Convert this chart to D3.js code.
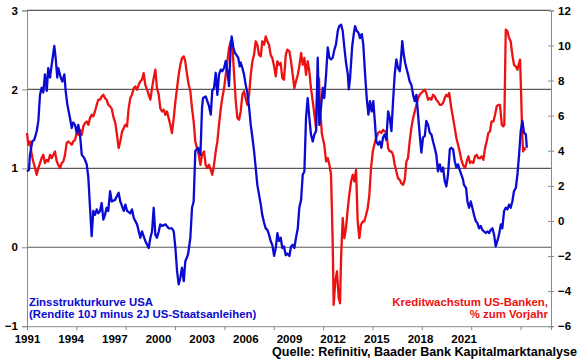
<!DOCTYPE html>
<html>
<head>
<meta charset="utf-8">
<script src="https://cdn.jsdelivr.net/npm/d3@7"></script>
<style>
  html, body { margin: 0; padding: 0; background: #fff; }
  svg { display: block; }
  text { font-family: "Liberation Sans", Arial, sans-serif; font-weight: bold; }
</style>
</head>
<body>
<script>
// ---- DATA ----
const yearTicks = [1991, 1994, 1997, 2000, 2003, 2006, 2009, 2012, 2015, 2018, 2021];
const leftTicks = [-1, 0, 1, 2, 3];
const rightTicks = [-6, -4, -2, 0, 2, 4, 6, 8, 10, 12];

// Zinsstrukturkurve USA (10J minus 2J), left axis
const spreadDates = [
1991.00,1991.12,1991.18,1991.32,1991.44,1991.59,1991.69,1991.79,1991.89,1991.99,
1992.09,1992.20,1992.29,1992.40,1992.50,1992.56,1992.66,1992.74,1992.84,1992.90,
1993.05,1993.15,1993.27,1993.35,1993.45,1993.61,1993.72,1993.81,1993.92,1994.02,
1994.12,1994.22,1994.33,1994.48,1994.63,1994.73,1994.83,1994.93,1995.03,1995.13,
1995.24,1995.33,1995.44,1995.54,1995.64,1995.74,1995.84,1995.94,1996.05,1996.15,
1996.35,1996.57,1996.67,1996.88,1996.98,1997.08,1997.28,1997.38,1997.49,1997.69,
1997.89,1997.99,1998.19,1998.40,1998.50,1998.60,1998.70,1998.80,1998.90,1999.01,
1999.10,1999.21,1999.41,1999.61,1999.81,1999.92,2000.02,2000.12,2000.22,2000.32,
2000.42,2000.53,2000.62,2000.79,2000.93,2001.03,2001.13,2001.23,2001.40,2001.54,
2001.64,2001.70,2001.86,2001.96,2002.06,2002.17,2002.26,2002.37,2002.47,2002.57,
2002.67,2002.78,2002.87,2002.98,2003.08,2003.18,2003.28,2003.38,2003.44,2003.54,
2003.64,2003.72,2003.84,2003.93,2003.99,2004.09,2004.19,2004.29,2004.39,2004.50,
2004.60,2004.70,2004.80,2004.90,2005.00,2005.10,2005.21,2005.30,2005.41,2005.51,
2005.61,2005.71,2005.81,2005.91,2006.02,2006.12,2006.22,2006.32,2006.42,2006.52,
2006.62,2006.73,2006.82,2006.95,2007.05,2007.15,2007.25,2007.35,2007.46,2007.55,
2007.66,2007.76,2007.86,2007.96,2008.06,2008.16,2008.26,2008.37,2008.47,2008.57,
2008.67,2008.77,2008.87,2008.98,2009.07,2009.18,2009.28,2009.38,2009.48,2009.58,
2009.68,2009.78,2009.89,2009.98,2010.09,2010.19,2010.29,2010.39,2010.50,2010.56,
2010.64,2010.76,2010.86,2010.94,2011.04,2011.14,2011.24,2011.35,2011.44,2011.55,
2011.65,2011.75,2011.85,2011.95,2012.05,2012.14,2012.23,2012.34,2012.44,2012.54,
2012.64,2012.74,2012.84,2012.95,2013.05,2013.15,2013.25,2013.35,2013.45,2013.55,
2013.66,2013.75,2013.81,2013.90,2013.98,2014.06,2014.16,2014.26,2014.36,2014.47,
2014.57,2014.67,2014.77,2014.87,2014.97,2015.07,2015.18,2015.27,2015.38,2015.48,
2015.58,2015.68,2015.78,2015.88,2015.98,2016.09,2016.19,2016.29,2016.39,2016.49,
2016.59,2016.70,2016.79,2016.90,2017.00,2017.10,2017.20,2017.30,2017.40,2017.50,
2017.56,2017.69,2017.77,2017.87,2017.97,2018.07,2018.17,2018.28,2018.37,2018.48,
2018.58,2018.68,2018.78,2018.88,2018.98,2019.09,2019.19,2019.29,2019.39,2019.49,
2019.59,2019.69,2019.80,2019.89,2020.00,2020.10,2020.20,2020.30,2020.40,2020.50,
2020.60,2020.71,2020.81,2020.91,2021.01,2021.11,2021.21,2021.32,2021.38
];
const spreadValues = [
0.96,0.98,1.17,1.34,1.36,1.47,1.60,1.93,2.02,1.96,
2.19,1.98,2.27,2.15,2.31,2.40,2.55,2.40,2.15,2.27,
2.15,2.10,2.19,1.98,1.81,1.64,1.51,1.58,1.55,1.45,
1.55,1.43,1.17,1.13,1.05,0.88,0.50,0.14,0.46,0.41,
0.48,0.43,0.46,0.56,0.35,0.41,0.50,0.46,0.71,0.58,
0.60,0.69,0.58,0.46,0.54,0.46,0.43,0.48,0.37,0.29,
0.12,0.20,0.08,-0.01,0.12,0.20,0.50,0.16,0.12,0.20,
0.29,0.27,0.29,0.24,0.24,0.20,-0.01,-0.30,-0.47,-0.39,
-0.26,-0.43,-0.18,-0.09,0.12,0.50,0.58,1.22,1.26,1.17,
1.77,1.89,1.91,1.85,1.79,1.68,1.98,2.02,2.21,1.93,
2.19,2.25,2.23,2.27,2.36,2.23,2.04,2.53,2.67,2.53,
2.46,2.44,2.40,2.29,2.34,2.27,2.19,2.06,1.96,1.77,
1.55,1.39,1.22,1.01,0.79,0.67,0.54,0.41,0.31,0.24,
0.22,0.16,0.08,0.03,-0.11,-0.01,0.18,0.08,0.12,-0.01,
0.01,-0.10,-0.08,-0.11,0.01,0.03,-0.01,0.12,0.24,0.50,
0.60,0.92,0.96,1.64,1.89,1.64,1.43,1.34,1.43,1.47,
2.40,1.55,1.77,2.02,1.89,2.19,2.53,2.40,2.38,2.40,
2.50,2.57,2.74,2.80,2.82,2.74,2.53,2.34,2.19,2.00,
2.15,2.53,2.70,2.80,2.74,2.72,2.65,2.70,2.57,2.19,
1.89,1.68,1.85,1.72,1.85,1.60,1.34,1.30,1.34,1.26,
1.39,1.43,1.36,1.72,1.64,1.47,1.85,2.19,2.38,2.27,
2.23,2.44,2.61,2.44,2.34,2.27,2.19,2.10,2.06,1.93,
1.85,1.93,1.68,1.43,1.20,1.39,1.41,1.60,1.55,1.45,
1.43,1.34,1.26,1.17,0.96,1.05,0.96,1.01,0.84,0.77,
0.92,1.24,1.26,1.24,1.09,1.01,1.05,0.98,0.92,0.86,
0.79,0.75,0.58,0.50,0.58,0.50,0.41,0.33,0.31,0.24,
0.27,0.22,0.20,0.18,0.20,0.18,0.22,0.24,0.16,0.01,
0.08,0.16,0.29,0.24,0.46,0.50,0.48,0.54,0.50,0.58,
0.71,0.75,0.92,1.17,1.47,1.60,1.45,1.43,1.26
];

// Kreditwachstum US-Banken, % zum Vorjahr, right axis
const creditDates = [
1991.00,1991.08,1991.18,1991.29,1991.38,1991.49,1991.59,1991.69,1991.79,1991.89,
1991.99,1992.09,1992.20,1992.29,1992.40,1992.50,1992.60,1992.70,1992.81,1992.90,
1993.01,1993.11,1993.21,1993.31,1993.41,1993.51,1993.61,1993.72,1993.81,1993.92,
1994.02,1994.12,1994.22,1994.33,1994.42,1994.53,1994.63,1994.73,1994.83,1994.93,
1995.03,1995.13,1995.24,1995.33,1995.44,1995.54,1995.64,1995.74,1995.84,1995.94,
1996.05,1996.15,1996.27,1996.37,1996.47,1996.57,1996.67,1996.78,1996.88,1996.98,
1997.08,1997.18,1997.28,1997.38,1997.49,1997.58,1997.69,1997.79,1997.89,1997.99,
1998.09,1998.19,1998.30,1998.40,1998.50,1998.60,1998.70,1998.80,1998.90,1999.01,
1999.10,1999.21,1999.31,1999.41,1999.51,1999.61,1999.71,1999.81,1999.92,2000.02,
2000.12,2000.22,2000.32,2000.42,2000.53,2000.62,2000.73,2000.83,2000.93,2001.03,
2001.13,2001.23,2001.33,2001.44,2001.54,2001.64,2001.76,2001.86,2001.96,2002.06,
2002.17,2002.26,2002.37,2002.47,2002.57,2002.67,2002.78,2002.87,2002.98,2003.08,
2003.18,2003.28,2003.38,2003.48,2003.59,2003.69,2003.79,2003.89,2003.99,2004.09,
2004.19,2004.29,2004.39,2004.50,2004.60,2004.70,2004.80,2004.90,2005.00,2005.10,
2005.21,2005.30,2005.41,2005.51,2005.61,2005.71,2005.81,2005.91,2006.02,2006.12,
2006.22,2006.32,2006.42,2006.52,2006.62,2006.73,2006.82,2006.95,2007.05,2007.15,
2007.25,2007.35,2007.46,2007.55,2007.66,2007.76,2007.86,2007.96,2008.06,2008.16,
2008.26,2008.37,2008.47,2008.57,2008.67,2008.75,2008.81,2008.92,2008.98,2009.07,
2009.18,2009.28,2009.38,2009.48,2009.58,2009.64,2009.74,2009.84,2009.95,2010.03,
2010.09,2010.19,2010.29,2010.39,2010.50,2010.59,2010.70,2010.80,2010.90,2011.00,
2011.10,2011.20,2011.30,2011.41,2011.50,2011.61,2011.71,2011.81,2011.91,2012.02,
2012.11,2012.22,2012.34,2012.44,2012.54,2012.64,2012.74,2012.84,2012.95,2013.05,
2013.15,2013.25,2013.35,2013.45,2013.55,2013.66,2013.75,2013.86,2013.96,2014.06,
2014.16,2014.26,2014.36,2014.47,2014.57,2014.67,2014.77,2014.87,2014.97,2015.07,
2015.18,2015.27,2015.38,2015.48,2015.58,2015.68,2015.78,2015.88,2015.98,2016.09,
2016.19,2016.29,2016.39,2016.49,2016.59,2016.66,2016.79,2016.90,2017.00,2017.10,
2017.20,2017.30,2017.41,2017.52,2017.63,2017.73,2017.83,2017.93,2018.03,2018.13,
2018.23,2018.33,2018.43,2018.54,2018.64,2018.74,2018.84,2018.94,2019.04,2019.14,
2019.24,2019.35,2019.45,2019.55,2019.65,2019.75,2019.86,2019.95,2020.01,2020.10,
2020.20,2020.30,2020.40,2020.50,2020.60,2020.71,2020.81,2020.91,2020.97,2021.03,
2021.09,2021.15,2021.23,2021.32
];
const creditValues = [
5.01,4.34,4.53,3.77,3.39,3.01,2.63,3.01,3.30,3.58,
3.77,3.30,3.48,3.39,3.77,3.58,3.77,3.96,3.39,3.20,
3.01,3.30,3.39,3.77,4.44,4.53,4.44,4.34,4.53,4.62,
5.01,4.91,5.19,4.91,5.39,5.58,5.67,5.48,5.86,6.05,
5.96,6.24,6.62,6.91,6.91,7.10,7.19,7.00,6.91,6.62,
6.53,6.40,5.86,5.58,4.91,4.15,4.53,5.10,5.29,5.48,
5.39,6.43,7.00,7.19,7.57,7.67,7.48,7.76,7.96,8.05,
8.43,7.76,7.48,7.19,6.91,7.57,8.14,8.62,7.57,7.19,
6.43,6.24,6.34,6.05,6.24,5.86,5.48,5.01,5.86,6.81,
7.57,8.33,8.90,9.28,9.38,9.10,8.33,7.76,7.39,6.43,
5.67,4.53,4.15,3.77,3.20,3.77,3.96,3.20,3.01,3.20,
2.91,2.63,3.20,3.96,4.53,5.48,6.43,7.00,7.57,8.33,
9.10,9.86,10.24,10.04,8.33,6.81,5.86,5.77,6.24,7.19,
7.39,7.00,6.62,7.19,8.33,9.10,9.47,10.24,10.04,9.47,
9.38,10.24,10.04,10.52,10.24,10.04,9.47,9.28,8.81,8.24,
9.10,8.90,9.00,8.14,8.05,9.47,9.76,9.66,9.10,8.33,
7.57,7.96,8.33,8.81,9.57,8.90,9.28,8.33,9.10,8.53,
7.57,6.81,6.05,5.29,8.20,8.10,6.50,5.00,4.72,4.34,
3.39,3.58,3.20,2.63,-1.17,-4.79,-3.45,-2.88,-4.41,-4.69,
-2.12,0.16,-0.98,-0.41,0.73,1.49,2.25,2.63,2.25,2.91,
-0.03,-0.98,-0.22,-0.03,-0.03,0.35,0.73,1.49,3.01,3.96,
4.34,4.72,5.01,5.10,5.01,5.19,5.10,5.10,4.15,3.96,
3.96,3.77,3.20,2.82,2.44,2.34,2.15,2.06,2.34,3.39,
3.58,4.53,5.29,5.86,6.24,6.62,7.00,7.19,7.29,7.39,
7.48,7.29,6.91,7.00,6.91,7.19,7.10,6.91,6.81,6.62,
6.62,6.72,7.00,7.19,7.10,7.29,6.43,5.86,5.29,4.72,
4.34,3.96,3.45,3.15,3.01,3.39,3.68,3.30,3.39,3.30,
3.68,3.77,3.58,3.58,3.68,3.48,4.15,4.53,5.01,5.10,
5.67,5.67,6.05,6.53,6.62,6.62,5.48,5.39,5.48,10.90,
10.81,10.43,10.24,9.47,8.90,8.81,8.62,9.00,9.19,7.39,
5.29,3.96,4.15,4.05
];

const spreadLabel = ["Zinsstrukturkurve USA", "(Rendite 10J minus 2J US-Staatsanleihen)"];
const creditLabel = ["Kreditwachstum US-Banken,", "% zum Vorjahr"];
const sourceLabel = "Quelle: Refinitiv, Baader Bank Kapitalmarktanalyse";

// ---- CHART ----
const W = 580, H = 359;
const L = 27, R = 551, T = 10.4, B = 326.2;
const blue = "#0a0ad2", red = "#ee1111";

const svg = d3.select("body").append("svg").attr("width", W).attr("height", H);

const x = d3.scaleLinear().domain([1991, 2022.85]).range([L, R]);
const xLab = d3.scaleLinear().domain([1991, 2027]).range([L, R]);
const yL = d3.scaleLinear().domain([-1, 3]).range([B, T]);
const yR = d3.scaleLinear().domain([-6, 12]).range([B, T]);

// gridlines
svg.append("g").selectAll("line").data(leftTicks.filter(d => d > -1)).join("line")
  .attr("x1", L).attr("x2", R)
  .attr("y1", d => yL(d)).attr("y2", d => yL(d))
  .attr("stroke", "#5a5a5a").attr("stroke-width", 1.2);

// left axis
const gL = svg.append("g").attr("transform", `translate(${L},0)`)
  .call(d3.axisLeft(yL).tickValues(leftTicks).tickSize(5).tickPadding(4).tickFormat(d3.format("d")));
// right axis
const gR = svg.append("g").attr("transform", `translate(${R},0)`)
  .call(d3.axisRight(yR).tickValues(rightTicks).tickSize(3).tickPadding(4).tickFormat(d3.format("d")));
gR.selectAll(".tick line").attr("x1", -3);
// bottom axis ticks (real time positions)
const gB = svg.append("g").attr("transform", `translate(0,${B})`)
  .call(d3.axisBottom(x).tickValues(yearTicks).tickSize(4).tickFormat(""));
// bottom labels
const gBL = svg.append("g").attr("transform", `translate(0,${B})`)
  .call(d3.axisBottom(xLab).tickValues(yearTicks).tickSize(0).tickPadding(9).tickFormat(d3.format("d")));
gBL.select(".domain").remove();

[gL, gR, gB].forEach(g => {
  g.select(".domain").attr("stroke", "#8a8a8a");
  g.selectAll(".tick line").attr("stroke", "#8a8a8a");
});
[gL, gR, gBL].forEach(g => {
  g.selectAll(".tick text").attr("fill", "#000")
    .style("font-family", '"Liberation Sans", Arial, sans-serif')
    .style("font-weight", "bold").style("font-size", "11.5px");
});

// lines
const lineL = d3.line().x(d => x(d[0])).y(d => yL(d[1]));
const lineR = d3.line().x(d => x(d[0])).y(d => yR(d[1]));

svg.append("path").datum(d3.zip(creditDates, creditValues))
  .attr("d", lineR).attr("fill", "none").attr("stroke", red)
  .attr("stroke-width", 2.3).attr("stroke-linejoin", "round");
svg.append("path").datum(d3.zip(spreadDates, spreadValues))
  .attr("d", lineL).attr("fill", "none").attr("stroke", blue)
  .attr("stroke-width", 2.3).attr("stroke-linejoin", "round");

// legend texts
svg.append("g").selectAll("text").data(spreadLabel).join("text")
  .attr("x", 29).attr("y", (d, i) => 305.5 + i * 12)
  .attr("fill", blue).style("font-size", "11.4px").text(d => d);
svg.append("g").selectAll("text").data(creditLabel).join("text")
  .attr("x", 548).attr("y", (d, i) => 305.5 + i * 12)
  .attr("text-anchor", "end")
  .attr("fill", red).style("font-size", "11.4px").text(d => d);

svg.append("text").attr("x", 577).attr("y", 356).attr("text-anchor", "end")
  .attr("fill", "#000").style("font-size", "12.6px").text(sourceLabel);
</script>
</body>
</html>
